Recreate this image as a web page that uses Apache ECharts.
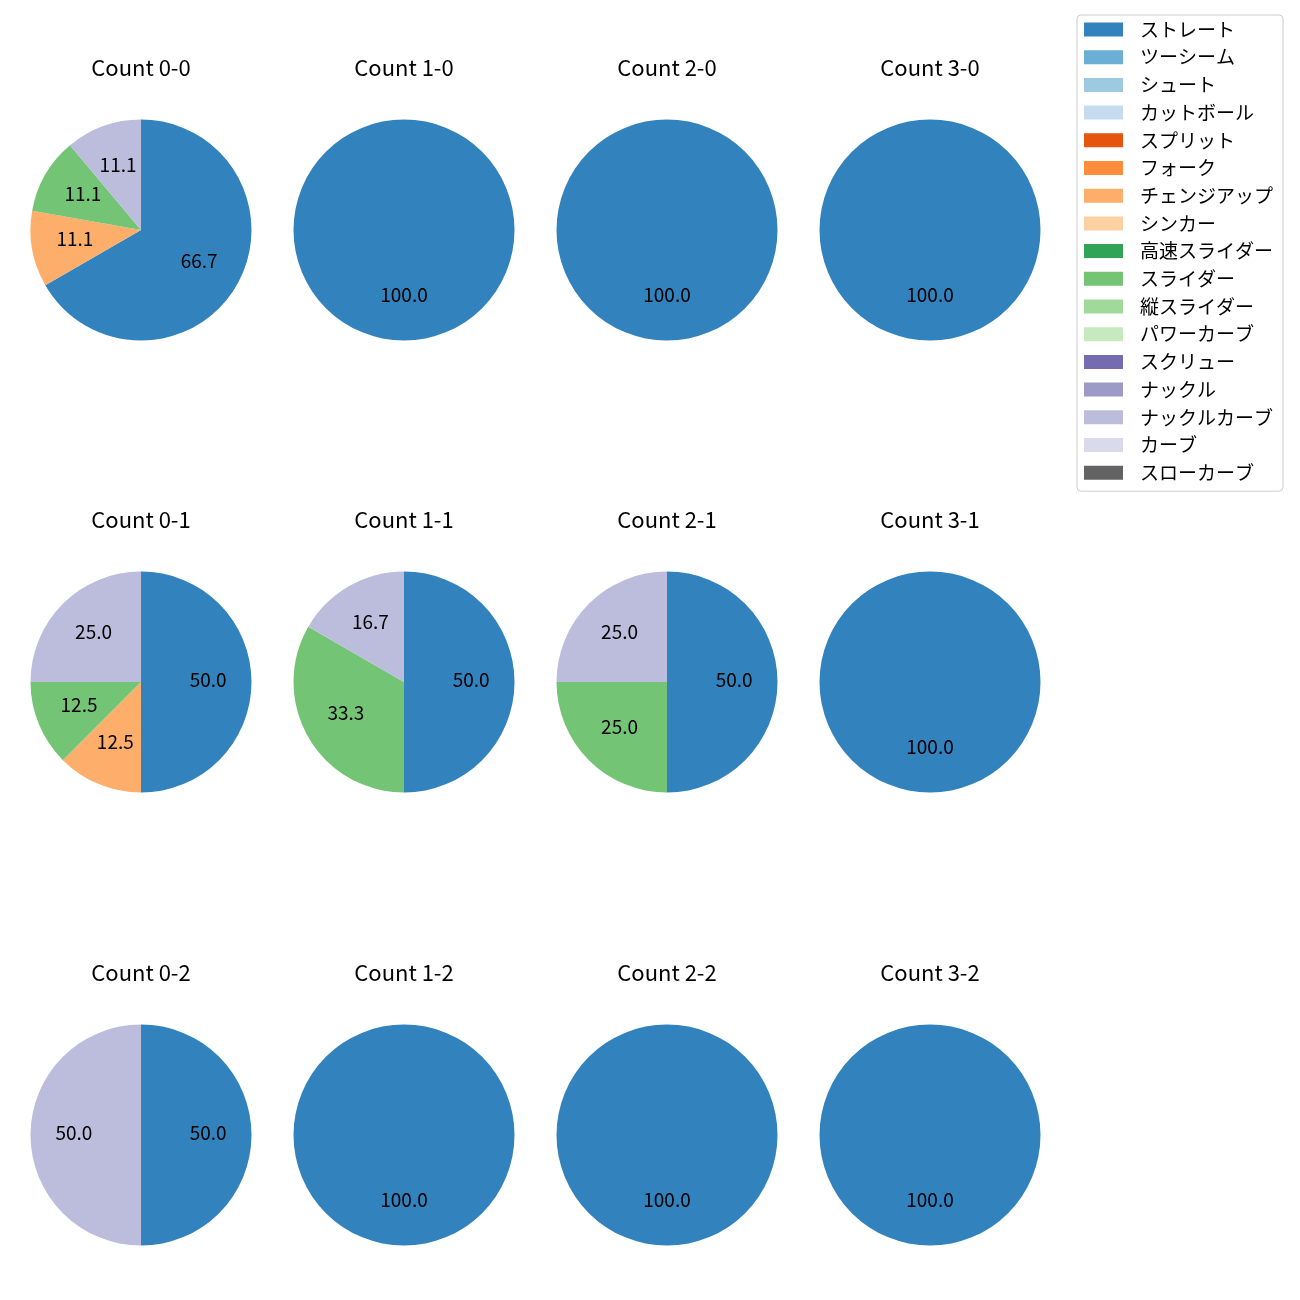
<!DOCTYPE html>
<html>
<head>
<meta charset="utf-8">
<script src="https://cdn.jsdelivr.net/npm/echarts@6/dist/echarts.min.js"></script>
<style>html,body{margin:0;padding:0;background:#fff;}#c{width:1300px;height:1300px;}</style>
</head>
<body>
<div id="c"></div>
<script>
const pitchTypes = ['ストレート','ツーシーム','シュート','カットボール','スプリット','フォーク','チェンジアップ','シンカー','高速スライダー','スライダー','縦スライダー','パワーカーブ','スクリュー','ナックル','ナックルカーブ','カーブ','スローカーブ'];
const pitchColors = ['#3182bd','#6baed6','#9ecae1','#c6dbef','#e6550d','#fd8d3c','#fdae6b','#fdd0a2','#31a354','#74c476','#a1d99b','#c7e9c0','#756bb1','#9e9ac8','#bcbddc','#dadaeb','#636363'];
const panelTitles = ['Count 0-0','Count 1-0','Count 2-0','Count 3-0','Count 0-1','Count 1-1','Count 2-1','Count 3-1','Count 0-2','Count 1-2','Count 2-2','Count 3-2'];
// counts per panel: [pitch type, count]
const count00 = [['ストレート',6],['チェンジアップ',1],['スライダー',1],['ナックルカーブ',1]];
const count10 = [['ストレート',1]];
const count20 = [['ストレート',1]];
const count30 = [['ストレート',1]];
const count01 = [['ストレート',4],['チェンジアップ',1],['スライダー',1],['ナックルカーブ',2]];
const count11 = [['ストレート',3],['スライダー',2],['ナックルカーブ',1]];
const count21 = [['ストレート',2],['スライダー',1],['ナックルカーブ',1]];
const count31 = [['ストレート',1]];
const count02 = [['ストレート',1],['ナックルカーブ',1]];
const count12 = [['ストレート',1]];
const count22 = [['ストレート',1]];
const count32 = [['ストレート',1]];
const panels = [count00,count10,count20,count30,count01,count11,count21,count31,count02,count12,count22,count32];

const colX = [141, 404, 667, 930];
const rowY = [230, 682, 1135];
const R = 110.5;
const FONT = '"Noto Sans CJK JP","Noto Sans",sans-serif';

const colorOf = n => pitchColors[pitchTypes.indexOf(n)];
const series = [];
// dummy series carrying all legend names/colors
series.push({
  type:'pie', center:[-500,-500], radius:[0,1], silent:true, label:{show:false}, labelLine:{show:false},
  data: pitchTypes.map((n,i)=>({name:n, value:1, itemStyle:{color:pitchColors[i]}}))
});
const titles = [];
panels.forEach((p, k) => {
  const cx = colX[k % 4], cy = rowY[Math.floor(k / 4)];
  const total = p.reduce((s, d) => s + d[1], 0);
  const data = p.map(d => ({name:d[0], value:d[1], itemStyle:{color:colorOf(d[0])}}));
  series.push({
    type:'pie', center:[cx, cy], radius:[0, R], startAngle:90, clockwise:true,
    silent:true, animation:false, label:{show:false}, labelLine:{show:false},
    itemStyle:{borderWidth:0}, data
  });
  series.push({
    type:'pie', center:[cx, cy], radius:[0, R*1.16], startAngle:90, clockwise:true,
    silent:true, animation:false, labelLine:{show:false},
    itemStyle:{color:'rgba(0,0,0,0)', borderWidth:0},
    label:{show:true, position:'inside',
      rich:{v:{color:'#000', fontSize:19, fontFamily:FONT, lineHeight:19, padding:[0,0,5,0]}},
      formatter: prm => '{v|' + (prm.value / total * 100).toFixed(1) + '}'},
    data: p.map(d => ({name:d[0], value:d[1]}))
  });
  titles.push({text: panelTitles[k], left: cx, top: cy - 173, textAlign:'center', padding:0,
    textStyle:{fontSize:22, fontWeight:'normal', color:'#000', fontFamily:FONT}});
});

const chart = echarts.init(document.getElementById('c'), null, {renderer:'canvas'});
chart.setOption({
  animation:false,
  backgroundColor:'#fff',
  title: titles,
  legend: {
    data: pitchTypes, orient:'vertical', left:1077, top:15, width:206,
    padding:[5, 10, 9, 7], itemWidth:39, itemHeight:14, itemGap:8.7,
    borderColor:'#cccccc', borderWidth:1, borderRadius:4,
    icon:'rect', selectedMode:false,
    textStyle:{fontSize:19, color:'#000', fontFamily:FONT, lineHeight:19, padding:[0,0,0,12]}
  },
  series
});
</script>
</body>
</html>
